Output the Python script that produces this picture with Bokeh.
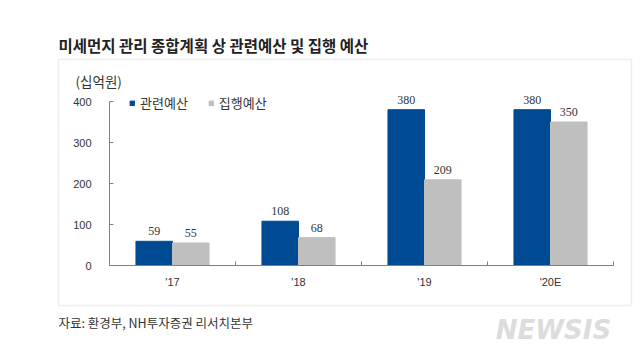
from bokeh.plotting import figure
from bokeh.models import (ColumnDataSource, FixedTicker, Label, LabelSet, Legend,
                          LegendItem, BoxAnnotation, Range1d)
from bokeh.embed import file_html
from bokeh.resources import INLINE

# ---- data ----
categories = ["'17", "'18", "'19", "'20E"]
related_budget = [59, 108, 380, 380]     # 관련예산
executed_budget = [55, 68, 209, 350]     # 집행예산
y_ticks = [0, 100, 200, 300, 400]
series_names = ["관련예산", "집행예산"]

BLUE = "#004a93"
GRAY = "#bfbfbf"
NUM_FONT = "Liberation Sans"
KR_FONT = "Noto Sans CJK KR"

idx = list(range(len(categories)))
bar_w = 0.29
src = ColumnDataSource(dict(
    xb=[i + 0.5 - bar_w / 2 for i in idx],
    xg=[i + 0.5 + bar_w / 2 for i in idx],
    rel=related_budget,
    exe=executed_budget,
    rel_t=[str(v) for v in related_budget],
    exe_t=[str(v) for v in executed_budget],
))

# layout in page pixels: plotting area spans x 109..613, y 265 (value 0)..101 (value 400)
W, H = 636, 350
AX_L, AX_R, AX_B, AX_T = 109, 613, 265, 101
n = len(categories)
ymax = y_ticks[-1]
xpx = (AX_R - AX_L) / n
ypx = (AX_B - AX_T) / ymax
x_range = Range1d(-AX_L / xpx, n + (W - AX_R) / xpx)
y_range = Range1d(-(H - AX_B) / ypx, ymax + AX_T / ypx)

p = figure(width=W, height=H, output_backend="svg", toolbar_location=None,
           x_range=x_range, y_range=y_range,
           min_border_left=0, min_border_right=0, min_border_top=0, min_border_bottom=0)
p.outline_line_color = None
p.xgrid.visible = False
p.ygrid.visible = False
p.background_fill_color = "white"
p.border_fill_color = "white"

rb = p.vbar(x="xb", top="rel", width=bar_w, source=src, color=BLUE)
gb = p.vbar(x="xg", top="exe", width=bar_w, source=src, color=GRAY)

# axes (drawn at value 0 inside the canvas)
xa = p.xaxis[0]
xa.fixed_location = 0
xa.bounds = (0, n)
xa.ticker = FixedTicker(ticks=[i + 0.5 for i in idx], minor_ticks=[i + 1 for i in idx])
xa.major_label_overrides = {i + 0.5: c for i, c in zip(idx, categories)}
xa.major_tick_in = 0
xa.major_tick_out = 0
xa.minor_tick_in = 4
xa.minor_tick_out = 0
xa.minor_tick_line_color = "#808080"
xa.axis_line_color = "#808080"
xa.major_label_standoff = 10
xa.major_label_text_font = NUM_FONT
xa.major_label_text_font_size = "11px"
xa.major_label_text_color = "#333333"

ya = p.yaxis[0]
ya.fixed_location = 0
ya.bounds = (0, ymax)
ya.ticker = FixedTicker(ticks=y_ticks)
ya.major_tick_in = 4
ya.major_tick_out = 0
ya.minor_tick_line_color = None
ya.major_tick_line_color = "#808080"
ya.axis_line_color = "#808080"
ya.major_label_standoff = 18
ya.major_label_text_font = NUM_FONT
ya.major_label_text_font_size = "11px"
ya.major_label_text_color = "#333333"

# data labels
for xcol, ycol, tcol in (("xb", "rel", "rel_t"), ("xg", "exe", "exe_t")):
    p.add_layout(LabelSet(x=xcol, y=ycol, text=tcol, source=src, y_offset=6,
                          text_align="center", text_baseline="bottom",
                          text_font=NUM_FONT, text_font_size="12px",
                          text_color="#333333"))

# legend
legend = Legend(items=[LegendItem(label=series_names[0], renderers=[rb]),
                       LegendItem(label=series_names[1], renderers=[gb])],
                orientation="horizontal", location=(129, H - 112),
                glyph_width=6, glyph_height=6, label_standoff=5, spacing=20,
                padding=0, margin=0, border_line_color=None,
                background_fill_alpha=0,
                label_text_font=KR_FONT, label_text_font_size="13px",
                label_text_color="#333333")
p.add_layout(legend, "center")


def sy(py):
    return H - py


# frame box around chart
p.add_layout(BoxAnnotation(left=58, right=631, bottom=sy(305), top=sy(59),
                           left_units="screen", right_units="screen",
                           bottom_units="screen", top_units="screen",
                           fill_alpha=0, line_color="#c8c8c8", line_width=1.5,
                           level="underlay"))

# texts
p.add_layout(Label(x=58, y=sy(44), x_units="screen", y_units="screen",
                   text="미세먼지 관리 종합계획 상 관련예산 및 집행 예산",
                   text_font=KR_FONT, text_font_style="bold", text_font_size="15.5px",
                   text_color="#222222", text_baseline="middle"))
p.add_layout(Label(x=75, y=sy(80), x_units="screen", y_units="screen",
                   text="(십억원)", text_font=KR_FONT, text_font_size="13.5px",
                   text_color="#333333", text_baseline="middle"))
p.add_layout(Label(x=58, y=sy(322), x_units="screen", y_units="screen",
                   text="자료: 환경부, NH투자증권 리서치본부", text_font=KR_FONT,
                   text_font_size="12.5px", text_color="#333333", text_baseline="middle"))
p.add_layout(Label(x=553, y=sy(329), x_units="screen", y_units="screen",
                   text="NEWSIS", text_font="DejaVu Sans", text_font_style="bold italic",
                   text_font_size="26px", text_color="#dcdcdc", text_align="center",
                   text_baseline="middle"))

open("out.html", "w").write(file_html(p, INLINE))
